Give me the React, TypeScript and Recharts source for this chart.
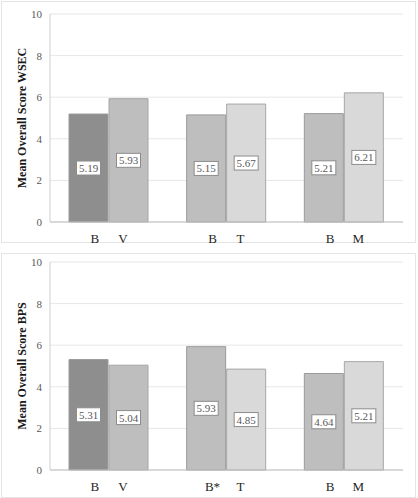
import React from "react";
import { BarChart, Bar, XAxis, YAxis, CartesianGrid, Cell, LabelList } from "recharts";

// Group labels: each group pairs a baseline condition with a comparison condition
const wsecGroups = ["B|V", "B|T", "B|M"];
const bpsGroups = ["B|V", "B*|T", "B|M"];

// Mean overall scores per group (first bar, second bar)
const wsecFirst = [5.19, 5.15, 5.21];
const wsecSecond = [5.93, 5.67, 6.21];
const bpsFirst = [5.31, 5.93, 4.64];
const bpsSecond = [5.04, 4.85, 5.21];

const yTicks = [0, 2, 4, 6, 8, 10];

// Bar fills per group
const firstFills = ["#8e8e8e", "#bebebe", "#bebebe"];
const secondFills = ["#bebebe", "#d9d9d9", "#d9d9d9"];

const FONT = "Liberation Serif, Tinos, Times New Roman, serif";

const ValueBox = (props: any) => {
  const { x, y, width, height, value } = props;
  const cx = x + width / 2;
  const cy = y + height / 2;
  const w = 24;
  const h = 14;
  return (
    <g>
      <rect x={cx - w / 2} y={cy - h / 2} width={w} height={h} fill="#ffffff" stroke="#8c8c8c" strokeWidth={1} />
      <text x={cx} y={cy + 4} textAnchor="middle" style={{ fontFamily: FONT, fontSize: 11 }} fill="#595959">
        {Number(value).toFixed(2)}
      </text>
    </g>
  );
};

const PairTick = (props: any) => {
  const { x, y, payload } = props;
  const [a, b] = String(payload.value).split("|");
  return (
    <g style={{ fontFamily: FONT, fontSize: 13 }}>
      <text x={x - 14} y={y + 13} textAnchor="middle" fill="#262626">
        {a}
      </text>
      <text x={x + 14} y={y + 13} textAnchor="middle" fill="#262626">
        {b}
      </text>
    </g>
  );
};

type PanelProps = {
  groups: string[];
  first: number[];
  second: number[];
  title: string;
};

const Panel = ({ groups, first, second, title }: PanelProps) => {
  const data = groups.map((g, i) => ({ group: g, first: first[i], second: second[i] }));
  return (
    <BarChart
      width={418}
      height={249}
      data={data}
      margin={{ top: 14, right: 15, bottom: 0, left: 20 }}
      barSize={39}
      barGap={1}
      style={{ fontFamily: FONT }}
    >
      <CartesianGrid vertical={false} stroke="#e6e6e6" />
      <XAxis
        dataKey="group"
        tick={<PairTick />}
        tickLine={false}
        axisLine={{ stroke: "#bfbfbf" }}
        height={27}
        interval={0}
      />
      <YAxis
        domain={[0, 10]}
        ticks={yTicks}
        width={30}
        tickLine={false}
        axisLine={{ stroke: "#d0d0d0" }}
        tick={{ fontFamily: FONT, fontSize: 11, fill: "#595959" }}
        label={{
          value: title,
          angle: -90,
          position: "insideLeft",
          offset: 0,
          dx: 2,
          style: { fontFamily: FONT, fontSize: 12, fontWeight: "bold", fill: "#1a1a1a", textAnchor: "middle" },
        }}
      />
      <Bar dataKey="first" stroke="#9a9a9a" strokeWidth={1} isAnimationActive={false}>
        {data.map((_, i) => (
          <Cell key={i} fill={firstFills[i]} />
        ))}
        <LabelList dataKey="first" content={<ValueBox />} />
      </Bar>
      <Bar dataKey="second" stroke="#a6a6a6" strokeWidth={1} isAnimationActive={false}>
        {data.map((_, i) => (
          <Cell key={i} fill={secondFills[i]} />
        ))}
        <LabelList dataKey="second" content={<ValueBox />} />
      </Bar>
    </BarChart>
  );
};

export default function App() {
  return (
    <div style={{ position: "absolute", left: 0, top: 0, width: 418, height: 498, background: "#ffffff" }}>
      <div style={{ position: "absolute", left: 1, top: 1, width: 413, height: 240, border: "1px solid #e4e4e4" }} />
      <div style={{ position: "absolute", left: 1, top: 253, width: 413, height: 243, border: "1px solid #e4e4e4" }} />
      <div style={{ position: "absolute", left: 0, top: 0 }}>
        <Panel groups={wsecGroups} first={wsecFirst} second={wsecSecond} title="Mean Overall Score WSEC" />
      </div>
      <div style={{ position: "absolute", left: 0, top: 248 }}>
        <Panel groups={bpsGroups} first={bpsFirst} second={bpsSecond} title="Mean Overall Score BPS" />
      </div>
    </div>
  );
}
